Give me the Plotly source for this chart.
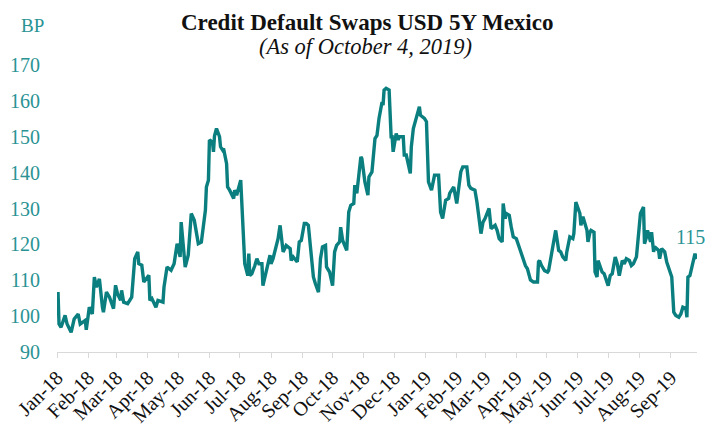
import plotly.graph_objects as go

dates = [
"2018-01-02","2018-01-03","2018-01-05","2018-01-09","2018-01-11","2018-01-15","2018-01-18","2018-01-22","2018-01-24","2018-01-29",
"2018-01-30","2018-02-02","2018-02-05","2018-02-07","2018-02-09","2018-02-12","2018-02-15","2018-02-16","2018-02-19","2018-02-22",
"2018-02-26","2018-02-28","2018-03-02","2018-03-05","2018-03-06","2018-03-08","2018-03-12","2018-03-16","2018-03-19","2018-03-22",
"2018-03-23","2018-03-26","2018-03-28","2018-04-02","2018-04-03","2018-04-05","2018-04-09","2018-04-11","2018-04-16","2018-04-17",
"2018-04-20","2018-04-24","2018-04-27","2018-04-30","2018-05-03","2018-05-04","2018-05-08","2018-05-11","2018-05-14","2018-05-17",
"2018-05-21","2018-05-24","2018-05-28","2018-05-29","2018-05-31","2018-06-01","2018-06-04","2018-06-05","2018-06-06","2018-06-08",
"2018-06-11","2018-06-12","2018-06-14","2018-06-15","2018-06-18","2018-06-19","2018-06-21","2018-06-25","2018-06-26","2018-06-28",
"2018-07-02","2018-07-03","2018-07-05","2018-07-06","2018-07-09","2018-07-10","2018-07-11","2018-07-13","2018-07-16","2018-07-18",
"2018-07-20","2018-07-23","2018-07-24","2018-07-27","2018-07-31","2018-08-01","2018-08-03","2018-08-08","2018-08-10","2018-08-13",
"2018-08-16","2018-08-20","2018-08-21","2018-08-23","2018-08-27","2018-08-29","2018-08-31","2018-09-03","2018-09-05","2018-09-07",
"2018-09-12","2018-09-14","2018-09-17","2018-09-19","2018-09-21","2018-09-24","2018-09-25","2018-09-28","2018-10-01","2018-10-03",
"2018-10-05","2018-10-08","2018-10-09","2018-10-11","2018-10-15","2018-10-17","2018-10-19","2018-10-22","2018-10-23","2018-10-25",
"2018-10-29","2018-10-30","2018-11-02","2018-11-05","2018-11-06","2018-11-09","2018-11-12","2018-11-14","2018-11-15","2018-11-16",
"2018-11-19","2018-11-20","2018-11-21","2018-11-23","2018-11-26","2018-11-27","2018-11-28","2018-11-29","2018-11-30","2018-12-03",
"2018-12-05","2018-12-06","2018-12-10","2018-12-11","2018-12-13","2018-12-17","2018-12-18","2018-12-20","2018-12-24","2018-12-26",
"2018-12-27","2018-12-31","2019-01-02","2019-01-04","2019-01-07","2019-01-10","2019-01-14","2019-01-15","2019-01-16","2019-01-18",
"2019-01-21","2019-01-24","2019-01-25","2019-01-29","2019-01-31","2019-02-01","2019-02-05","2019-02-07","2019-02-11","2019-02-13",
"2019-02-15","2019-02-19","2019-02-21","2019-02-25","2019-02-27","2019-03-01","2019-03-05","2019-03-07","2019-03-11","2019-03-13",
"2019-03-15","2019-03-18","2019-03-19","2019-03-21","2019-03-22","2019-03-25","2019-03-27","2019-03-29","2019-04-01","2019-04-03",
"2019-04-05","2019-04-10","2019-04-12","2019-04-15","2019-04-18","2019-04-22","2019-04-23","2019-04-24","2019-04-26","2019-04-29",
"2019-05-02","2019-05-03","2019-05-06","2019-05-07","2019-05-10","2019-05-13","2019-05-15","2019-05-17","2019-05-20","2019-05-21",
"2019-05-24","2019-05-27","2019-05-28","2019-05-30","2019-05-31","2019-06-03","2019-06-04","2019-06-06","2019-06-10","2019-06-11",
"2019-06-13","2019-06-14","2019-06-17","2019-06-18","2019-06-20","2019-06-21","2019-06-25","2019-06-27","2019-07-01","2019-07-03",
"2019-07-05","2019-07-08","2019-07-10","2019-07-12","2019-07-15","2019-07-17","2019-07-19","2019-07-22","2019-07-24","2019-07-26",
"2019-07-29","2019-07-31","2019-08-02","2019-08-05","2019-08-06","2019-08-08","2019-08-09","2019-08-12","2019-08-13","2019-08-15",
"2019-08-16","2019-08-20","2019-08-21","2019-08-23","2019-08-26","2019-08-28","2019-08-30","2019-09-02","2019-09-04","2019-09-06",
"2019-09-09","2019-09-11","2019-09-13","2019-09-16","2019-09-17","2019-09-18","2019-09-20","2019-09-23","2019-09-24","2019-09-25",
"2019-09-26","2019-09-27",
]

cds_bp = [
106.7,97.8,96.9,100.2,97.8,95.5,99.2,100.6,97.8,98.8,
96.2,102.5,100.6,110.9,108.1,110.4,102.5,101.1,106.7,105.3,
102.1,108.6,106.2,104.4,107.2,103.9,103.5,105.3,116.0,117.9,
114.6,114.2,109.5,111.4,104.4,104.9,102.5,104.4,103.9,108.1,
113.7,112.8,114.6,120.2,116.5,126.2,113.7,117.0,128.6,126.7,
120.2,120.6,129.5,136.0,137.9,149.1,148.5,145.8,150.2,152.3,
150.0,147.2,146.3,146.7,142.5,136.0,135.1,132.8,135.1,133.7,
137.9,132.3,116.5,114.6,111.3,117.4,111.3,111.8,114.1,116.0,
114.6,114.6,108.5,112.3,117.0,114.6,116.0,121.6,125.3,117.9,
119.7,118.8,115.5,116.5,115.1,120.7,121.1,125.8,125.8,125.3,
110.9,109.0,106.7,116.0,119.3,119.7,113.7,112.3,108.5,117.9,
119.7,120.7,124.8,121.1,118.3,129.0,130.9,131.4,136.5,134.2,
144.4,143.9,137.4,133.7,138.8,140.2,149.5,150.4,153.2,155.1,
159.7,158.8,163.0,163.5,163.0,154.2,150.0,150.0,145.8,150.9,
149.1,150.0,150.0,144.9,144.9,139.8,147.2,152.3,156.5,158.4,
156.0,155.1,154.2,137.4,135.1,139.3,139.3,135.1,129.0,127.2,
132.3,132.8,134.2,136.0,132.8,131.4,140.2,141.6,141.6,136.5,
135.6,135.1,131.8,123.0,126.2,127.2,130.0,124.4,125.3,123.9,
121.6,120.7,131.4,127.2,128.6,128.1,124.8,122.1,121.6,120.2,
118.3,114.1,113.2,110.1,109.5,109.5,115.1,115.5,114.1,112.7,
112.3,112.7,117.9,119.3,123.9,118.3,117.9,116.5,115.5,117.9,
122.1,121.6,123.0,131.8,130.9,128.6,125.3,127.7,123.9,120.7,
123.4,123.9,123.4,112.3,110.9,115.5,112.3,111.8,108.5,111.3,
111.8,116.5,114.6,111.3,115.5,114.6,116.0,115.5,114.1,114.6,
116.5,123.0,128.6,130.4,120.2,122.1,123.9,120.7,123.4,117.9,
119.3,118.3,116.0,118.8,117.9,115.1,113.2,110.9,101.1,100.2,
99.7,100.6,102.5,102.1,99.7,110.9,111.3,115.1,115.5,117.4,
116.5,116.0,
]

month_ticks = ["2018-01-01","2018-02-01","2018-03-01","2018-04-01","2018-05-01","2018-06-01","2018-07-01",
               "2018-08-01","2018-09-01","2018-10-01","2018-11-01","2018-12-01","2019-01-01","2019-02-01",
               "2019-03-01","2019-04-01","2019-05-01","2019-06-01","2019-07-01","2019-08-01","2019-09-01"]
month_labels = ["Jan-18","Feb-18","Mar-18","Apr-18","May-18","Jun-18","Jul-18","Aug-18","Sep-18","Oct-18",
                "Nov-18","Dec-18","Jan-19","Feb-19","Mar-19","Apr-19","May-19","Jun-19","Jul-19","Aug-19","Sep-19"]
y_ticks = [90, 100, 110, 120, 130, 140, 150, 160, 170]

title_text = "Credit Default Swaps USD 5Y Mexico"
subtitle_text = "(As of October 4, 2019)"
last_label = "115"

TEAL = "#0b7f7f"
TEAL_TXT = "#2a9393"
SERIF = "Liberation Serif, DejaVu Serif, serif"

# the page body has an 8px margin; the figure is sized to fill the rest of the window
OFF = 8
W, H = 726 - OFF, 429 - OFF
ML, MR, MT, MB = 57 - OFF, 29, 65 - OFF, 77

fig = go.Figure()
fig.add_trace(go.Scatter(x=dates, y=cds_bp, mode="lines",
                         line=dict(color=TEAL, width=3.4), hoverinfo="skip"))

pw, ph = W - ML - MR, H - MT - MB
def px_to_paper(x, y):
    # x, y are window pixels
    return (x - OFF - ML) / pw, (H - MB - (y - OFF)) / ph

tx, ty = px_to_paper(367, 8.5)
sx, sy = px_to_paper(365, 46)
bx, by = px_to_paper(32, 25)

fig.update_layout(
    width=W, height=H,
    margin=dict(l=ML, r=MR, t=MT, b=MB, autoexpand=False),
    paper_bgcolor="white", plot_bgcolor="white",
    showlegend=False,
    xaxis=dict(type="date", range=["2018-01-01", "2019-09-27"], automargin=False,
               tickvals=month_ticks, ticktext=month_labels, tickangle=-45,
               showgrid=False, zeroline=False, showline=True, linecolor="#d9d9d9", linewidth=1.3,
               ticks="outside", ticklen=5, tickcolor="#d9d9d9", tickwidth=1.3,
               tickfont=dict(family=SERIF, size=20, color="#111111")),
    yaxis=dict(range=[90, 170], tickvals=y_ticks, showgrid=False, zeroline=False, automargin=False,
               showline=False, ticks="outside", ticklen=12, tickcolor="rgba(0,0,0,0)",
               tickfont=dict(family=SERIF, size=20, color=TEAL_TXT)),
    annotations=[
        dict(text="<b>" + title_text + "</b>", x=tx, y=ty, xref="paper", yref="paper",
             xanchor="center", yanchor="top", showarrow=False,
             font=dict(family=SERIF, size=23, color="#111111")),
        dict(text="<i>" + subtitle_text + "</i>", x=sx, y=sy, xref="paper", yref="paper",
             xanchor="center", yanchor="middle", showarrow=False,
             font=dict(family=SERIF, size=22.5, color="#111111")),
        dict(text="BP", x=bx, y=by, xref="paper", yref="paper", showarrow=False,
             xanchor="center", yanchor="middle",
             font=dict(family=SERIF, size=19, color=TEAL_TXT)),
        dict(text=last_label, x=dates[-1], y=cds_bp[-1], xref="x", yref="y",
             xanchor="right", yanchor="bottom", xshift=10, yshift=9, showarrow=False,
             font=dict(family=SERIF, size=20, color=TEAL_TXT)),
    ],
)

fig.write_html("out.html")
